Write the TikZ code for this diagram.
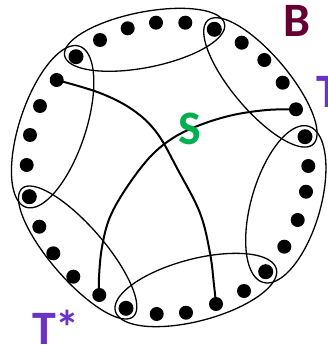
\documentclass[tikz,border=0pt]{standalone}
\usepackage{fontspec}
\setmainfont{Carlito}
\definecolor{bcol}{HTML}{660033}
\definecolor{scol}{HTML}{00B050}
\definecolor{tcol}{HTML}{6A33C6}
\begin{document}
\begin{tikzpicture}[x=1pt,y=-1pt,
  dot/.style={circle,fill=black,inner sep=0pt,minimum size=14pt},
  bigdot/.style={dot,minimum size=15pt},
  loopline/.style={draw=black,line width=1.3pt},
  pathline/.style={draw=black,line width=2pt},
  lab/.style={font=\fontsize{48}{48}\selectfont\bfseries,inner sep=0pt}]
\useasboundingbox (0,0) rectangle (327,345);
% the six loops
\foreach \cx/\cy/\al/\a/\b in {144.6/39.8/-11.2/81.5/27.75,
                               260.4/82.4/49.8/81.3/28,
                               285.8/204.3/106.2/81.3/34.5,
                               195.85/290/165.3/83.2/31,
                               77.65/252.5/229.1/84.8/27,
                               52.65/126.7/-71.6/84.8/33}
  \draw[loopline] plot[domain=0:360,samples=121,variable=\t]
    ({\cx+\a*cos(\t)*cos(\al)-\b*sin(\t)*sin(\al)},
     {\cy+\a*cos(\t)*sin(\al)+\b*sin(\t)*cos(\al)}) -- cycle;
% the dots
\foreach \i/\px/\py in {1/100/40, 2/127.7/28.3, 3/156/22.7, 4/185.3/22.7,
   6/241.7/42.7, 7/264.3/60, 8/282.7/82.7, 9/296/109.3,
   11/308.3/166, 12/306/191.7, 13/297.7/220, 14/284.3/246.7,
   16/244/291, 17/216/304, 18/186/312.7, 19/156.7/314,
   21/99.3/295, 22/73.3/276.7, 23/53.3/253.3, 24/39.3/226.7,
   26/26.7/165, 27/30/135, 28/40/106, 29/56.7/80}
  \node[dot] (d\i) at (\px,\py) {};
\foreach \i/\px/\py in {5/214.3/29.3, 10/305/136.7, 15/265.7/271.7,
   20/126/308.3, 25/29.3/196.7, 30/76/56.7}
  \node[bigdot] (d\i) at (\px,\py) {};
% the two paths
\draw[pathline] plot[smooth,tension=0.6] coordinates {(d29.center) (100,93) (133,110)
   (157,133) (178,170) (200,213) (210,253) (214,285) (d17.center)};
\draw[pathline] plot[smooth,tension=0.6] coordinates {(d9.center) (267,110) (233,115)
   (200,125) (173,138) (150,157) (127,187) (110,217) (102,247) (99,277) (d21.center)};
% labels
\node[lab,text=bcol,anchor=base] (B) at (296.5,37) {B};
\node[lab,text=scol,anchor=base] (S) at (189.5,144) {S};
\node[lab,text=tcol,anchor=base west] (T) at (316,107) {T};
\node[lab,text=tcol,anchor=base west] (Ts) at (32,344) {T*};
\end{tikzpicture}
\end{document}
